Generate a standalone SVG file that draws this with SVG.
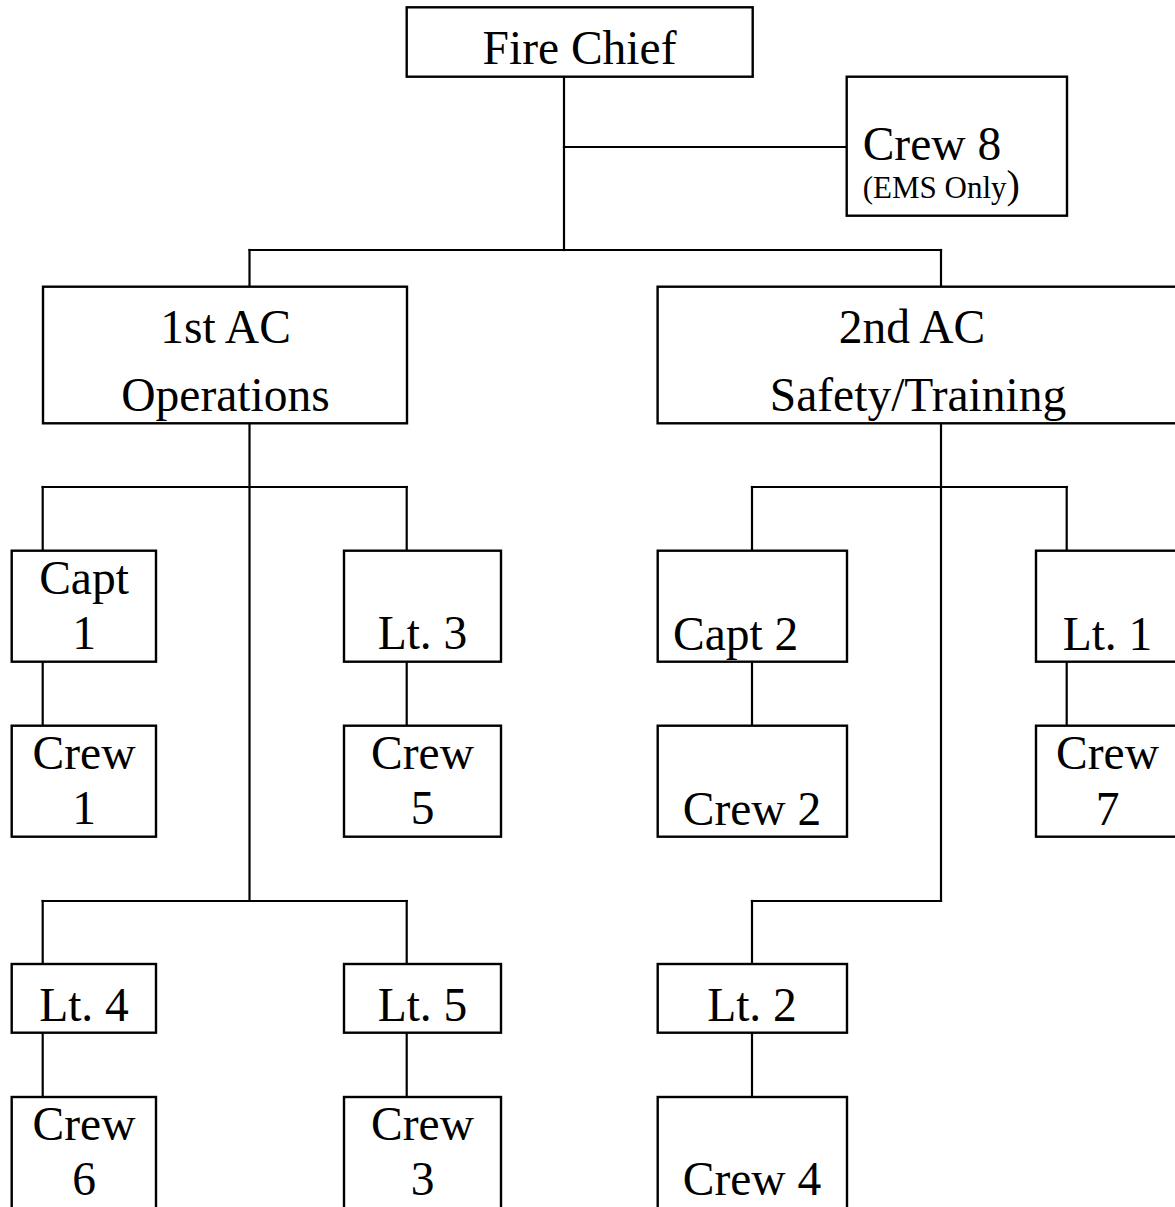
<svg xmlns="http://www.w3.org/2000/svg" width="1175" height="1207" viewBox="0 0 1175 1207">
<style>
rect{fill:#fff;stroke:#000;stroke-width:2.4}
.c line{stroke:#000;stroke-width:2.2;stroke-linecap:square}
text{font-family:"Liberation Serif","Times New Roman",serif;font-size:47.5px;fill:#000;text-anchor:middle}
.s{text-anchor:start}
</style>
<rect x="0" y="0" width="1175" height="1207" style="stroke:none"/>
<g class="c" id="connectors">
<line x1="564" y1="77" x2="564" y2="250"/>
<line x1="564" y1="147" x2="847" y2="147"/>
<line x1="249.5" y1="250" x2="941" y2="250"/>
<line x1="249.5" y1="250" x2="249.5" y2="287"/>
<line x1="941" y1="250" x2="941" y2="287"/>
<line x1="249.5" y1="423" x2="249.5" y2="901"/>
<line x1="42.7" y1="487" x2="406.7" y2="487"/>
<line x1="42.7" y1="487" x2="42.7" y2="551"/>
<line x1="406.7" y1="487" x2="406.7" y2="551"/>
<line x1="42.7" y1="662" x2="42.7" y2="726"/>
<line x1="406.7" y1="662" x2="406.7" y2="726"/>
<line x1="42.7" y1="901" x2="406.7" y2="901"/>
<line x1="42.7" y1="901" x2="42.7" y2="964"/>
<line x1="406.7" y1="901" x2="406.7" y2="964"/>
<line x1="42.7" y1="1033" x2="42.7" y2="1097"/>
<line x1="406.7" y1="1033" x2="406.7" y2="1097"/>
<line x1="941" y1="423" x2="941" y2="901"/>
<line x1="752" y1="487" x2="1066.7" y2="487"/>
<line x1="752" y1="487" x2="752" y2="551"/>
<line x1="1066.7" y1="487" x2="1066.7" y2="551"/>
<line x1="752" y1="662" x2="752" y2="726"/>
<line x1="1066.7" y1="662" x2="1066.7" y2="726"/>
<line x1="752" y1="901" x2="941" y2="901"/>
<line x1="752" y1="901" x2="752" y2="964"/>
<line x1="752" y1="1033" x2="752" y2="1097"/>
</g>
<g id="fire-chief"><rect x="406.7" y="7.3" width="346" height="69.4"/><text x="579.5" y="64">Fire Chief</text></g>
<g id="crew-8"><rect x="846.7" y="76.7" width="220.3" height="139"/><text class="s" x="862.7" y="160">Crew 8</text><text class="s" x="862.7" y="198"><tspan style="font-size:31px">(EMS Only</tspan><tspan style="font-size:40px">)</tspan></text></g>
<g id="ac1"><rect x="43" y="286.7" width="364" height="136.6"/><text x="225.5" y="343">1st AC</text><text x="225.5" y="410.7">Operations</text></g>
<g id="ac2"><rect x="657.6" y="286.7" width="522" height="136.6"/><text x="912" y="343">2nd AC</text><text x="918" y="410.7">Safety/Training</text></g>
<g id="capt-1"><rect x="11.7" y="550.7" width="144.3" height="111"/><text x="84" y="594">Capt</text><text x="84" y="649">1</text></g>
<g id="crew-1"><rect x="11.7" y="725.7" width="144.3" height="111"/><text x="84" y="769">Crew</text><text x="84" y="824">1</text></g>
<g id="lt-3"><rect x="344" y="550.7" width="157" height="111"/><text x="422.5" y="649">Lt. 3</text></g>
<g id="crew-5"><rect x="344" y="725.7" width="157" height="111"/><text x="422.5" y="769">Crew</text><text x="422.5" y="824">5</text></g>
<g id="capt-2"><rect x="657.7" y="550.7" width="189.3" height="111"/><text class="s" x="673" y="650">Capt 2</text></g>
<g id="crew-2"><rect x="657.7" y="725.7" width="189.3" height="111"/><text x="752" y="825">Crew 2</text></g>
<g id="lt-1"><rect x="1036" y="550.7" width="142" height="111"/><text x="1107.5" y="650">Lt. 1</text></g>
<g id="crew-7"><rect x="1036" y="725.7" width="142" height="111"/><text x="1107.5" y="769">Crew</text><text x="1107.5" y="825">7</text></g>
<g id="lt-4"><rect x="11.7" y="964" width="144.3" height="68.7"/><text x="84" y="1020.7">Lt. 4</text></g>
<g id="lt-5"><rect x="344" y="964" width="157" height="68.7"/><text x="422.5" y="1020.7">Lt. 5</text></g>
<g id="crew-6"><rect x="11.7" y="1097" width="144.3" height="130"/><text x="84" y="1140">Crew</text><text x="84" y="1195">6</text></g>
<g id="crew-3"><rect x="344" y="1097" width="157" height="130"/><text x="422.5" y="1140">Crew</text><text x="422.5" y="1195">3</text></g>
<g id="lt-2"><rect x="657.7" y="964" width="189.3" height="68.7"/><text x="752" y="1020.7">Lt. 2</text></g>
<g id="crew-4"><rect x="657.7" y="1097" width="189.3" height="130"/><text x="752" y="1195">Crew 4</text></g>
</svg>
